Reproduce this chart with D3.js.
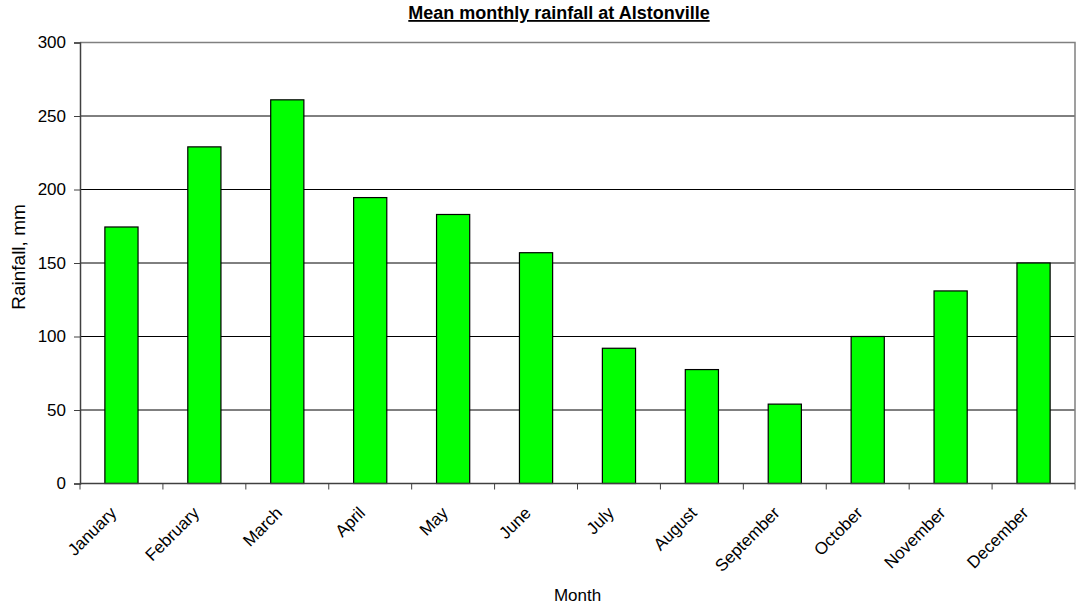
<!DOCTYPE html>
<html>
<head>
<meta charset="utf-8">
<script src="https://cdn.jsdelivr.net/npm/d3@7"></script>
<style>
  html, body { margin: 0; padding: 0; background: #fff; }
  svg { display: block; font-family: "Liberation Sans", Arial, sans-serif; }
</style>
</head>
<body>
<svg id="chart" width="1077" height="607"></svg>
<script>
// Mean monthly rainfall (mm) at Alstonville
const months = ["January", "February", "March", "April", "May", "June",
                "July", "August", "September", "October", "November", "December"];
const rainfall = [174.5, 229, 261, 194.5, 183, 157, 92, 77.5, 54, 100, 131, 150];
const yTicks = [0, 50, 100, 150, 200, 250, 300];

const svg = d3.select("#chart");
const plot = { left: 80, right: 1075, top: 42.5, bottom: 483.5 };

const x = d3.scaleBand()
  .domain(months)
  .range([plot.left, plot.right])
  .paddingInner(0.6)
  .paddingOuter(0.3);

const y = d3.scaleLinear()
  .domain([0, 300])
  .range([plot.bottom, plot.top]);

// Horizontal gridlines
svg.append("g")
  .selectAll("line")
  .data(yTicks.filter(d => d > 0 && d < 300))
  .join("line")
  .attr("x1", plot.left).attr("x2", plot.right)
  .attr("y1", d => y(d)).attr("y2", d => y(d))
  .attr("stroke", "#000").attr("stroke-width", 1);

// Plot-area border (top and right edges)
svg.append("path")
  .attr("d", `M${plot.left},${y(300)}H${plot.right}V${plot.bottom}`)
  .attr("fill", "none")
  .attr("stroke", "#808080")
  .attr("stroke-width", 1.5);

// Bars
svg.append("g")
  .selectAll("rect")
  .data(months.map((m, i) => ({ month: m, value: rainfall[i] })))
  .join("rect")
  .attr("x", d => x(d.month))
  .attr("width", x.bandwidth())
  .attr("y", d => y(d.value))
  .attr("height", d => y(0) - y(d.value))
  .attr("fill", "#00ff00")
  .attr("stroke", "#000")
  .attr("stroke-width", 1.2);

// Y axis
const yAxis = svg.append("g")
  .attr("transform", `translate(${plot.left},0)`)
  .call(d3.axisLeft(y).tickValues(yTicks).tickSize(6).tickPadding(8).tickFormat(d3.format("d")));
yAxis.select(".domain").attr("stroke", "#404040").attr("stroke-width", 1.5);
yAxis.selectAll(".tick line").attr("stroke", "#404040");
yAxis.selectAll(".tick text")
  .attr("font-size", 17).attr("fill", "#000")
  .attr("font-family", "Liberation Sans, Arial, sans-serif");

// X axis: ticks sit on category boundaries
const step = x.step();
const boundaries = months.map(m => x(m) - step * 0.3).concat([plot.right]);
svg.append("line")
  .attr("x1", plot.left).attr("x2", plot.right)
  .attr("y1", y(0)).attr("y2", y(0))
  .attr("stroke", "#404040").attr("stroke-width", 1.5);
svg.append("g")
  .selectAll("line")
  .data(boundaries)
  .join("line")
  .attr("x1", d => d).attr("x2", d => d)
  .attr("y1", y(0)).attr("y2", y(0) + 6)
  .attr("stroke", "#404040");

// Rotated month labels
svg.append("g")
  .selectAll("text")
  .data(months)
  .join("text")
  .attr("transform", d => `translate(${x(d) + x.bandwidth() / 2 - 4},514) rotate(-45)`)
  .attr("text-anchor", "end")
  .attr("font-size", 17)
  .attr("fill", "#000")
  .text(d => d);

// Axis titles
svg.append("text")
  .attr("x", (plot.left + plot.right) / 2)
  .attr("y", 601)
  .attr("text-anchor", "middle")
  .attr("font-size", 17)
  .text("Month");

svg.append("text")
  .attr("transform", "translate(25,257) rotate(-90)")
  .attr("text-anchor", "middle")
  .attr("font-size", 19)
  .text("Rainfall, mm");

// Chart title
svg.append("text")
  .attr("x", 559)
  .attr("y", 19)
  .attr("text-anchor", "middle")
  .attr("font-size", 18)
  .attr("font-weight", "bold")
  .attr("text-decoration", "underline")
  .text("Mean monthly rainfall at Alstonville");
</script>
</body>
</html>
